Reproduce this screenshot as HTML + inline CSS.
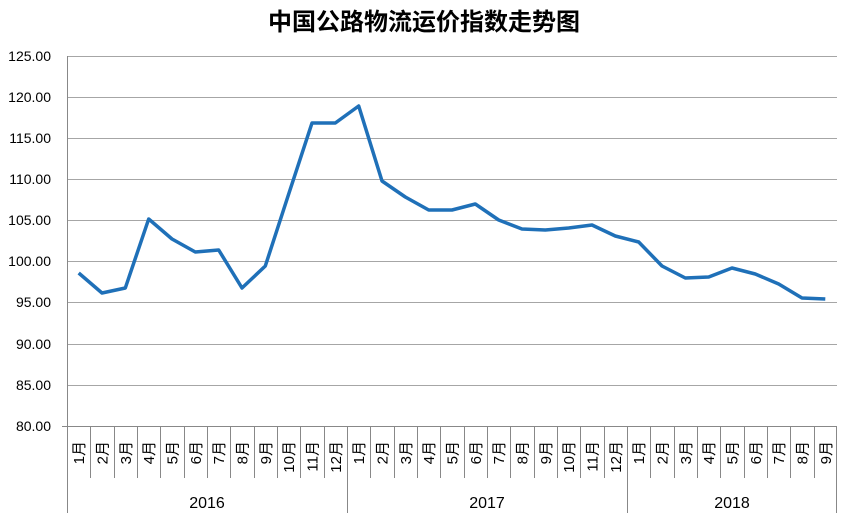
<!DOCTYPE html>
<html><head><meta charset="utf-8"><style>body{margin:0;background:#fff}</style></head><body>
<svg width="847" height="516" xmlns="http://www.w3.org/2000/svg" font-family="Liberation Sans, Noto Sans CJK SC, sans-serif">
<rect width="847" height="516" fill="#fff"/>
<text x="424" y="30" text-anchor="middle" font-size="24" font-weight="bold" font-family="Noto Sans CJK SC, sans-serif">中国公路物流运价指数走势图</text>
<g stroke="#a6a6a6" stroke-width="1">
<line x1="67" y1="56.5" x2="837" y2="56.5"/><line x1="67" y1="97.5" x2="837" y2="97.5"/><line x1="67" y1="138.5" x2="837" y2="138.5"/><line x1="67" y1="179.5" x2="837" y2="179.5"/><line x1="67" y1="220.5" x2="837" y2="220.5"/><line x1="67" y1="261.5" x2="837" y2="261.5"/><line x1="67" y1="302.5" x2="837" y2="302.5"/><line x1="67" y1="344.5" x2="837" y2="344.5"/><line x1="67" y1="385.5" x2="837" y2="385.5"/>
</g>
<g stroke="#888" stroke-width="1">
<line x1="62" y1="426.5" x2="837" y2="426.5"/>
<line x1="67.5" y1="56" x2="67.5" y2="513"/>
<line x1="347.5" y1="426" x2="347.5" y2="513"/>
<line x1="627.5" y1="426" x2="627.5" y2="513"/>
<line x1="836.5" y1="426" x2="836.5" y2="513"/>
</g>
<g id="ticks" stroke="#888" stroke-width="1"></g>
<g font-size="14" text-anchor="end" fill="#000">
<text x="51" y="61">125.00</text><text x="51" y="102">120.00</text><text x="51" y="143">115.00</text><text x="51" y="184">110.00</text><text x="51" y="225">105.00</text><text x="51" y="266">100.00</text><text x="51" y="307">95.00</text><text x="51" y="349">90.00</text><text x="51" y="390">85.00</text><text x="51" y="431">80.00</text>
</g>
<g id="months" font-size="15"></g>
<g font-size="16" text-anchor="middle">
<text x="207" y="508">2016</text><text x="487" y="508">2017</text><text x="732" y="508">2018</text>
</g>
<polyline fill="none" stroke="#1f70b8" stroke-width="3.5" stroke-linejoin="round" points="78.7,273 102,293 125.3,288 148.7,219 172,239 195.3,252 218.7,250 242,288 265.3,266 288.7,194 312,123 335.3,123 358.7,106 382,181 405.3,197 428.7,210 452,210 475.3,204 498.7,220 522,229 545.3,230 568.7,228 592,225 615.3,236 638.7,242 662,266 685.3,278 708.7,277 732,268 755.3,274 778.7,284 802,298 825.3,299"/>
<script>
var t=document.getElementById('ticks'),m=document.getElementById('months'),ns='http://www.w3.org/2000/svg';
var w=770/33;
for(var i=1;i<33;i++){if(i==12||i==24)continue;var x=Math.round(67+w*i)+0.5;var l=document.createElementNS(ns,'line');l.setAttribute('x1',x);l.setAttribute('x2',x);l.setAttribute('y1',426);l.setAttribute('y2',478);t.appendChild(l);}
for(var i=0;i<33;i++){var mo=(i%12)+1;var cx=67+w*(i+0.5)+5.5;var tx=document.createElementNS(ns,'text');tx.setAttribute('transform','translate('+cx+',441) rotate(-90)');tx.setAttribute('text-anchor','end');tx.textContent=mo+'月';m.appendChild(tx);}
</script>
</svg>
</body></html>
